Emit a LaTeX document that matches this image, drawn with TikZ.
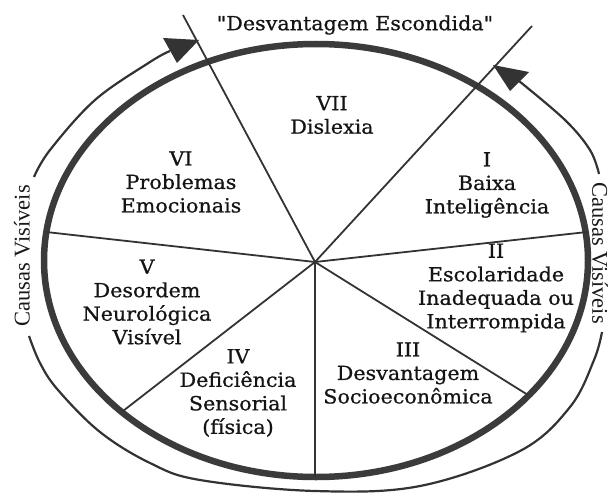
\documentclass[tikz,border=0pt]{standalone}
\usepackage{fontspec}
\setmainfont{DejaVu Serif}[FakeStretch=1.06, FakeBold=0.8]
\newfontfamily\quotefont{DejaVu Serif}[FakeStretch=1.06, FakeBold=0.8, Ligatures=TeXOff]
\newfontfamily\sidefont{Liberation Serif}
\begin{document}
\begin{tikzpicture}[x=1pt,y=-1pt,
  lbl/.style={align=center, font=\fontsize{19.5}{23.5}\selectfont, text=black!92, inner sep=0pt},
  side/.style={font=\sidefont\fontsize{22.5}{26}\selectfont, text=black!90, inner sep=0pt},
  spoke/.style={line width=1.8pt, draw=black!80},
  rim/.style={line width=6.5pt, draw=black!77},
  outer/.style={line width=2.2pt, draw=black!80},
  head/.style={fill=black!80, draw=none}]
\useasboundingbox (0,0) rectangle (613,495);

% centre and spoke ends
\coordinate (c) at (315,262);
\coordinate (sTL) at (183,15);
\coordinate (sTR) at (532,26);
\coordinate (sR) at (587,232);
\coordinate (sBR) at (528,395);
\coordinate (sB) at (315,477);
\coordinate (sBL) at (123,411);
\coordinate (sL) at (46,232);

% rim
\draw[rim] (316,260.5) ellipse [x radius=272, y radius=216.5];

% spokes
\foreach \e in {sTL,sTR,sR,sBR,sB,sBL,sL} \draw[spoke] (c) -- (\e);

% outer arcs
\draw[outer] plot[smooth, tension=0.6] coordinates {(34,177) (50,150) (95,100) (150,62) (170,51)};
\draw[outer] plot[smooth, tension=0.6] coordinates {(599,174) (590,150) (565,120) (519,81)};
\draw[outer] plot[smooth, tension=0.6] coordinates {(29,336) (40,363) (58,390) (100,432) (150,463) (200,480) (315,491) (420,486) (520,451) (570,407) (594,360) (602,332)};

% arrow heads
\fill[head] (199,40) -- (163,38) -- (177,63) -- cycle;
\fill[head] (493,65) -- (529,72) -- (510,91) -- cycle;

% labels
\node[lbl] (title) at (355,25) {{\quotefont"}Desvantagem Escondida{\quotefont"}};
\node[lbl] (l7) at (332,115) {VII\\Dislexia};
\node[lbl] (l6) at (181,182) {VI\\Problemas\\Emocionais};
\node[lbl] (l1) at (487,185) {I\\Baixa\\Inteligência};
\node[lbl] (l2) at (496,288) {II\\Escolaridade\\Inadequada ou\\Interrompida};
\node[lbl] (l5) at (147,302) {V\\Desordem\\Neurológica\\Visível};
\node[lbl] (l4) at (238,393) {IV\\Deficiência\\Sensorial\\(física)};
\node[lbl] (l3) at (408,373) {III\\Desvantagem\\Socioeconômica};

\node[side, rotate=90] (cl) at (22,256) {Causas Visíveis};
\node[side, rotate=-90] (cr) at (600,253) {Causas Visíveis};
\end{tikzpicture}
\end{document}
